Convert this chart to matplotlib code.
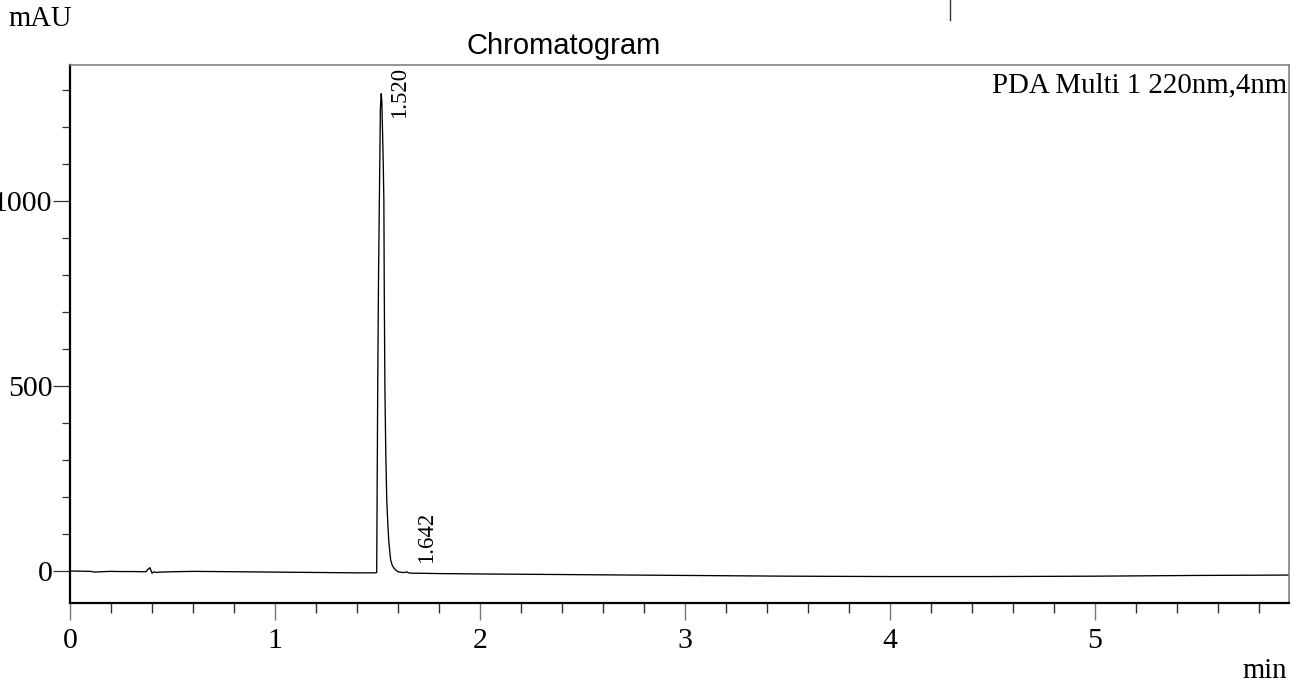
import matplotlib
matplotlib.use("Agg")
import matplotlib.pyplot as plt
from matplotlib.ticker import MultipleLocator
from matplotlib.lines import Line2D

# ---- data (time in min, signal in mAU) ----
time_min = [0.00, 0.05, 0.10, 0.12, 0.15, 0.20, 0.25, 0.30, 0.37, 0.38, 0.39, 0.40,
            0.41, 0.42, 0.44, 0.50, 0.60, 0.80, 1.00, 1.20, 1.40, 1.48, 1.490,
            1.496, 1.501, 1.505, 1.509, 1.514, 1.518, 1.521, 1.524, 1.528, 1.531,
            1.533, 1.536, 1.540, 1.545, 1.550, 1.555, 1.564, 1.572, 1.580, 1.590,
            1.600, 1.620, 1.635, 1.642, 1.650, 1.670, 1.700, 1.800, 2.000, 2.500,
            3.000, 3.500, 4.000, 4.500, 5.000, 5.500, 5.946]
signal_mau = [0, -0.5, -1, -3, -2, -1, -1.5, -1.5, -2, 4, 9, -6,
              -2, -4, -3, -2, -1, -2, -3, -4, -5, -5, -5,
              -4, 500, 800, 1000, 1250, 1290, 1270, 1200, 1100, 1000,
              750, 500, 330, 192, 130, 80, 30, 15, 8, 2,
              -2, -4, -4, -2, -5, -6, -6, -7, -8, -10,
              -12, -14, -15, -15, -14, -12, -11]

peak_times = [1.520, 1.642]
peak_labels = ["1.520", "1.642"]
peak_label_x = [1.558, 1.686]
peak_label_y = [1224, 22]

x_major_ticks = [0, 1, 2, 3, 4, 5]
y_major_ticks = [0, 500, 1000]

x_limits = (0, 5.946)
y_limits = (-86.5, 1367.6)

title_text = "Chromatogram"
detector_text = "PDA Multi 1 220nm,4nm"
y_unit = "mAU"
x_unit = "min"

# ---- figure ----
W, H = 1299, 686
fig = plt.figure(figsize=(W / 100, H / 100), dpi=100)
ax = fig.add_axes([70 / W, 1 - 603 / H, (1289 - 70) / W, (603 - 65) / H])

serif = ["Liberation Serif", "DejaVu Serif"]
sans = ["Liberation Sans", "DejaVu Sans"]

ax.plot(time_min, signal_mau, color="black", lw=0.95, solid_joinstyle="round")

ax.set_xlim(*x_limits)
ax.set_ylim(*y_limits)

ax.set_xticks(x_major_ticks)
ax.set_yticks(y_major_ticks)
ax.xaxis.set_minor_locator(MultipleLocator(0.2))
ax.yaxis.set_minor_locator(MultipleLocator(100))

ax.tick_params(axis="y", which="major", direction="out", length=12.2, width=0.9,
               pad=0.5, labelsize=21.5, color="#333333")
ax.tick_params(axis="y", which="minor", direction="out", length=5.8, width=0.9,
               color="#333333")
ax.tick_params(axis="x", which="major", direction="out", length=12.2, width=1.0,
               pad=6, labelsize=21.5, color="#777777")
ax.tick_params(axis="x", which="minor", direction="out", length=7, width=1.0,
               color="#333333")
for lab in ax.get_xticklabels() + ax.get_yticklabels():
    lab.set_fontfamily(serif)

for side in ["left", "bottom"]:
    ax.spines[side].set_linewidth(1.6)
    ax.spines[side].set_color("black")
for side in ["top", "right"]:
    ax.spines[side].set_linewidth(1.1)
    ax.spines[side].set_color("#777777")

# peak labels
for lx, ly, lab in zip(peak_label_x, peak_label_y, peak_labels):
    ax.text(lx, ly, lab, rotation=90, ha="left", va="bottom", fontsize=16.5,
            family=serif, color="black")

# texts
fig.text(564 / W, 1 - 54 / H, title_text, ha="center", va="baseline",
         fontsize=21, family=sans)
fig.text(1287 / W, 1 - 92 / H, detector_text, ha="right", va="baseline",
         fontsize=20.8, family=serif)
fig.text(8 / W, 1 - 26 / H, y_unit, ha="left", va="baseline", fontsize=20.6,
         family=serif)
fig.text(1287 / W, 1 - 678 / H, x_unit, ha="right", va="baseline", fontsize=20.6,
         family=serif)

# small stray vertical mark at the top of the page
fig.add_artist(Line2D([950 / W, 950 / W], [1.0, 1 - 20 / H], transform=fig.transFigure,
                      color="#333333", lw=1.0))

fig.savefig("out.png", dpi=100, facecolor="white")
